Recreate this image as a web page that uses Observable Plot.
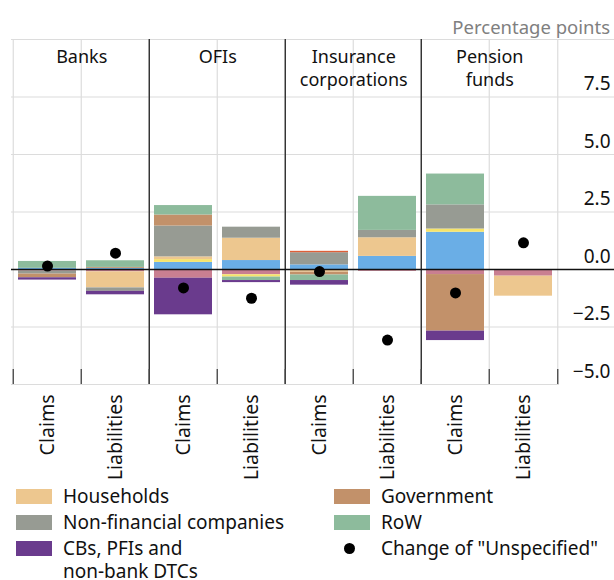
<!DOCTYPE html>
<html>
<head>
<meta charset="utf-8">
<script src="https://cdn.jsdelivr.net/npm/d3@7"></script>
<script src="https://cdn.jsdelivr.net/npm/@observablehq/plot@0.6"></script>
<style>
  body { margin: 0; background: #fff; font-family: "Noto Sans", "Open Sans", sans-serif; }
  #wrap { position: relative; width: 614px; height: 580px; overflow: hidden; }
  #unit { position: absolute; right: 4px; top: 14px; font-size: 18.5px; color: #808080; }
  #chart { position: absolute; left: 0; top: 0; }
  #legend { position: absolute; left: 0; top: 485px; width: 614px; font-size: 19px; color: #111; }
  .item { position: absolute; display: flex; align-items: flex-start; line-height: 23px; }
  .sw { width: 36px; height: 15px; margin-top: 4px; margin-right: 11px; flex: none; }
  .dotsw { width: 36px; height: 23px; display: flex; align-items: center; justify-content: center; margin-right: 11px; flex: none; }
  .dotsw span { width: 11px; height: 11px; border-radius: 50%; background: #000; display: block; margin-left: -6px; }
</style>
</head>
<body>
<div id="wrap">
  <div id="chart"></div>
  <div id="unit">Percentage points</div>
  <div id="legend"></div>
</div>
<script>
// ---- Data ----
const sectors = ["Banks", "OFIs", "Insurance\ncorporations", "Pension\nfunds"];
const sides = ["Claims", "Liabilities"];
// bar order: Banks C, Banks L, OFIs C, OFIs L, Insurance C, Insurance L, Pension C, Pension L
const otherBlue   = [0.05, 0.05, 0.31, 0.39, 0.20, 0.57, 1.62, 0];
const otherPink   = [-0.07, -0.10, -0.38, -0.23, 0, -0.08, -0.22, -0.29];
const otherYellow = [0, 0, 0.12, -0.10, 0, 0, 0.14, 0];
const households  = [0, -0.70, 0.12, 0.97, -0.12, 0.81, 0, -0.87];
const nonFinancial = [-0.13, -0.15, 1.34, 0.48, 0.53, 0.32, 1.05, 0];
const government  = [-0.16, 0.04, 0.48, 0, -0.12, 0, -2.46, 0];
const restOfWorld = [0.30, 0.29, 0.41, -0.15, -0.24, 1.48, 1.34, 0];
const otherRed    = [0, 0, 0, 0, 0.06, 0, 0, 0];
const cbsPfis     = [-0.10, -0.15, -1.59, -0.09, -0.20, 0, -0.41, 0];
const unspecified = [0.15, 0.71, -0.80, -1.25, -0.09, -3.07, -1.02, 1.16];
const yTicks = [-5, -2.5, 0, 2.5, 5, 7.5];
const gridTicks = [-2.5, 0, 2.5, 5, 7.5, 10];

const seriesNames = ["Other financial (blue)", "Other financial (pink)", "Other financial (yellow)",
  "Households", "Non-financial companies", "Government", "RoW", "Other (red)", "CBs, PFIs and non-bank DTCs"];
const seriesValues = [otherBlue, otherPink, otherYellow, households, nonFinancial, government, restOfWorld, otherRed, cbsPfis];
const seriesColors = ["#6aaee6", "#c97f91", "#f6e46a", "#edc78f", "#979b93", "#c2916a", "#8dbb9c", "#de5f38", "#6a3b8d"];

const keys = sectors.flatMap(s => sides.map(d => s + "|" + d));
const rows = [];
seriesNames.forEach((name, si) => seriesValues[si].forEach((v, i) => rows.push({bar: keys[i], series: name, value: v})));
const dots = unspecified.map((v, i) => ({bar: keys[i], value: v}));

// ---- Layout ----
const W = 614, H = 488;
const left = 11, right = 559;
const step = (right - left) / keys.length;
const font = '"Noto Sans", "Open Sans", sans-serif';

const chart = Plot.plot({
  width: W, height: H,
  marginLeft: left, marginRight: W - right, marginTop: 39, marginBottom: H - 384,
  style: {fontFamily: font, background: "white", overflow: "visible"},
  x: {domain: keys, paddingInner: 0.15, paddingOuter: 0.075, axis: null},
  y: {domain: [-5, 10], axis: null},
  color: {domain: seriesNames, range: seriesColors},
  marks: [
    Plot.ruleY(gridTicks, {y: d => d, stroke: "#dcdcdc", strokeWidth: 1.2, insetRight: -(W - right)}),
    Plot.ruleY([-5], {stroke: "#dcdcdc", strokeWidth: 1.2}),
    Plot.ruleX(keys, {x: d => d, dx: -step / 2, y1: -5, y2: 10, stroke: "#dcdcdc", strokeWidth: 1.2}),
    Plot.ruleX(keys.slice(-1), {x: d => d, dx: step / 2, y1: -5, y2: 10, stroke: "#dcdcdc", strokeWidth: 1.2}),
    Plot.barY(rows, Plot.stackY({x: "bar", y: "value", fill: "series"})),
    Plot.ruleX(keys.filter((d, i) => i % 2 === 0 && i > 0), {x: d => d, dx: -step / 2, y1: -5, y2: 10, stroke: "#222", strokeWidth: 1.3}),
    Plot.ruleX(keys, {x: d => d, dx: -step / 2, y1: -5, y2: -5, insetTop: -15, stroke: "#444", strokeWidth: 1.3}),
    Plot.ruleX(keys.slice(-1), {x: d => d, dx: step / 2, y1: -5, y2: -5, insetTop: -15, stroke: "#444", strokeWidth: 1.3}),
    Plot.ruleY([0], {stroke: "#111", strokeWidth: 1.6, insetRight: -(W - right)}),
    Plot.dot(dots, {x: "bar", y: "value", r: 5.5, fill: "#000", stroke: "none"}),
    Plot.text(yTicks, {y: d => d, text: d => d3.format(".1f")(d).replace("-", "\u2212"), frameAnchor: "right", textAnchor: "end", dx: W - right - 4, dy: -13, fontSize: 19, fill: "#111"}),
    Plot.text(keys.filter((d, i) => i % 2 === 0), {x: d => d, text: d => d.split("|")[0], y: 10, dx: step / 2, dy: 8, lineAnchor: "top", lineHeight: 1.25, fontSize: 18, fill: "#111"}),
    Plot.text(keys, {x: d => d, y: -5, text: d => d.split("|")[1], rotate: -90, textAnchor: "end", dy: 10, fontSize: 19.5, fill: "#111"})
  ]
});
document.getElementById("chart").appendChild(chart);

// ---- Legend ----
const legendItems = [
  {label: "Households", color: "#edc78f", x: 16, y: 0},
  {label: "Government", color: "#c2916a", x: 334, y: 0},
  {label: "Non-financial companies", color: "#979b93", x: 16, y: 26},
  {label: "RoW", color: "#8dbb9c", x: 334, y: 26},
  {label: "CBs, PFIs and<br>non-bank DTCs", color: "#6a3b8d", x: 16, y: 52},
  {label: "Change of \"Unspecified\"", dot: true, x: 334, y: 52}
];
const lg = document.getElementById("legend");
legendItems.forEach(it => {
  const d = document.createElement("div");
  d.className = "item";
  d.style.left = it.x + "px";
  d.style.top = it.y + "px";
  d.innerHTML = (it.dot ? '<div class="dotsw"><span></span></div>' : `<div class="sw" style="background:${it.color}"></div>`) + `<div>${it.label}</div>`;
  lg.appendChild(d);
});
</script>
</body>
</html>
